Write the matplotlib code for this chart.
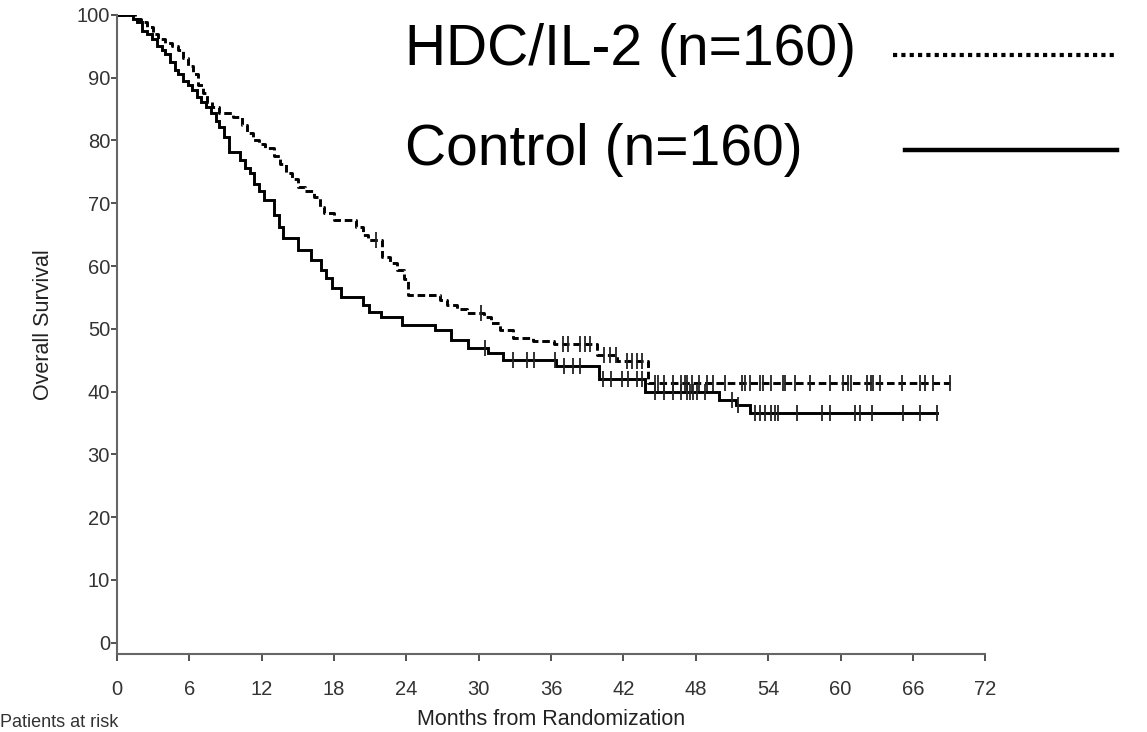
import numpy as np
import matplotlib
matplotlib.use("Agg")
import matplotlib.pyplot as plt

plt.rcParams["font.family"] = ["Liberation Sans", "DejaVu Sans"]

# Kaplan-Meier steps (months, % surviving)
ctrl_t = [0, 1.3, 1.7, 2.1, 2.5, 2.9, 3.3, 3.7, 4.0, 4.4,
          4.8, 5.1, 5.5, 5.9, 6.2, 6.6, 7.0, 7.4, 7.8, 8.2,
          8.5, 8.9, 9.3, 10.2, 10.6, 11.0, 11.4, 11.8, 12.2, 13.0,
          13.4, 13.8, 15.0, 16.1, 16.9, 17.3, 17.8, 18.6, 20.4, 20.9,
          21.9, 23.6, 26.4, 27.7, 29.1, 30.8, 32.0, 36.4, 40.0, 43.8,
          49.9, 51.3, 52.5]
ctrl_s = [100, 99.4, 98.8, 97.5, 96.9, 96.2, 95.0, 94.4, 93.8, 92.5,
          91.2, 90.6, 89.4, 88.8, 88.0, 86.9, 86.2, 85.4, 84.4, 83.1,
          82.2, 80.6, 78.1, 76.9, 75.6, 74.8, 73.1, 71.9, 70.5, 68.1,
          66.2, 64.4, 62.6, 61.0, 59.4, 58.1, 56.5, 55.1, 53.8, 52.7,
          51.9, 50.6, 49.8, 48.2, 47.0, 46.2, 45.0, 44.0, 42.0, 40.0,
          38.7, 37.9, 36.6]
ctrl_end = 68.0

hdc_t = [0, 1.5, 2.0, 2.5, 3.0, 3.4, 4.0, 4.6, 5.1, 5.5,
         5.9, 6.3, 6.7, 7.1, 7.5, 7.9, 8.5, 9.6, 10.4, 10.8,
         11.3, 11.8, 12.3, 13.0, 13.5, 14.0, 14.5, 15.0, 15.6, 16.3,
         16.8, 17.2, 18.0, 19.8, 20.4, 20.8, 22.0, 22.6, 23.2, 23.8,
         24.1, 26.8, 27.4, 28.2, 29.0, 30.4, 31.0, 31.8, 32.8, 34.5,
         36.2, 39.8, 41.5, 44.0]
hdc_s = [100, 99.4, 98.8, 98.1, 96.9, 96.2, 95.6, 95.0, 94.4, 93.1,
         91.9, 90.6, 88.8, 87.5, 86.2, 85.4, 84.4, 83.8, 82.5, 81.2,
         80.0, 79.4, 78.8, 77.5, 76.2, 74.8, 73.8, 72.6, 71.9, 71.0,
         69.4, 68.5, 67.4, 66.2, 65.0, 64.2, 61.5, 60.5, 59.4, 57.9,
         55.4, 54.6, 53.8, 53.1, 52.5, 51.9, 51.0, 49.8, 48.6, 48.0,
         47.5, 45.9, 44.8, 41.4]
hdc_end = 69.1

# censoring marks (months)
ctrl_cens = [30.5, 32.8, 34.0, 34.6, 36.3, 37.1, 37.8, 38.4, 40.3, 41.0,
             41.9, 42.4, 43.1, 43.5, 44.6, 45.4, 46.1, 46.8, 47.3, 47.5,
             47.8, 48.1, 48.8, 51.0, 51.5, 52.9, 53.3, 53.7, 54.2, 54.6,
             54.8, 56.4, 58.5, 59.1, 61.2, 61.6, 62.6, 65.2, 66.6, 68.0]
hdc_cens = [21.5, 30.2, 37.0, 37.4, 38.4, 38.8, 39.2, 40.4, 40.9, 41.4,
            42.3, 42.7, 43.1, 43.5, 44.6, 44.9, 45.4, 46.1, 46.8, 47.1,
            47.3, 47.7, 48.3, 48.9, 49.4, 50.4, 51.8, 52.1, 52.5, 53.3,
            53.6, 54.2, 55.2, 55.4, 56.2, 57.5, 59.1, 60.2, 60.6, 60.9,
            62.2, 62.5, 62.7, 63.3, 65.1, 66.6, 67.0, 67.7, 69.1]

x_ticks = list(range(0, 73, 6))
y_ticks = list(range(0, 101, 10))


def step_value(times, surv, t):
    idx = np.searchsorted(times, t, side="right") - 1
    return np.asarray(surv)[idx]


fig = plt.figure(figsize=(11.47, 7.32), dpi=100)
ax = fig.add_axes([0.102, 0.1066, 0.757, 0.873])

tc = ctrl_t + [ctrl_end]
sc = ctrl_s + [ctrl_s[-1]]
th = hdc_t + [hdc_end]
sh = hdc_s + [hdc_s[-1]]

ax.step(tc, sc, where="post", color="black", lw=2.1, solid_joinstyle="miter")
ax.step(th, sh, where="post", color="black", lw=2.1, linestyle=(0, (2.6, 1.3)))

ax.plot(ctrl_cens, step_value(ctrl_t, ctrl_s, ctrl_cens), ls="none",
        marker="|", ms=12, mew=1.3, color="#222222")
ax.plot(hdc_cens, step_value(hdc_t, hdc_s, hdc_cens), ls="none",
        marker="|", ms=12, mew=1.3, color="#222222")

ax.set_xlim(0, 72)
ax.set_ylim(-1.8, 100)
ax.set_xticks(x_ticks)
ax.set_yticks(y_ticks)
ax.tick_params(axis="both", labelsize=14.5, colors="#333333", width=1.2)
ax.tick_params(axis="x", pad=14, length=5)
ax.tick_params(axis="y", pad=1, length=4)
for side in ["top", "right"]:
    ax.spines[side].set_visible(False)
for side in ["left", "bottom"]:
    ax.spines[side].set_color("#666666")
    ax.spines[side].set_linewidth(1.5)

ax.set_xlabel("Months from Randomization", fontsize=15.5, color="#222222", labelpad=7)
ax.set_ylabel("Overall Survival", fontsize=15.5, color="#222222")
ax.yaxis.set_label_coords(-0.072, 0.515)

# legend drawn by hand, as in the original figure
fig.text(405 / 1147, 1 - 50 / 732, "HDC/IL-2 (n=160)", fontsize=41, va="center", ha="left")
fig.text(405 / 1147, 1 - 150 / 732, "Control (n=160)", fontsize=41, va="center", ha="left")
fig.add_artist(plt.Line2D([893 / 1147, 1118 / 1147], [1 - 55 / 732, 1 - 55 / 732],
                          color="black", lw=3, linestyle=(0, (1, 1))))
fig.add_artist(plt.Line2D([905 / 1147, 1117 / 1147], [1 - 150 / 732, 1 - 150 / 732],
                          color="black", lw=3.2))

fig.text(0.0, 0.002, "Patients at risk", fontsize=13, color="#333333", va="bottom")

fig.savefig("out.png", dpi=100)
